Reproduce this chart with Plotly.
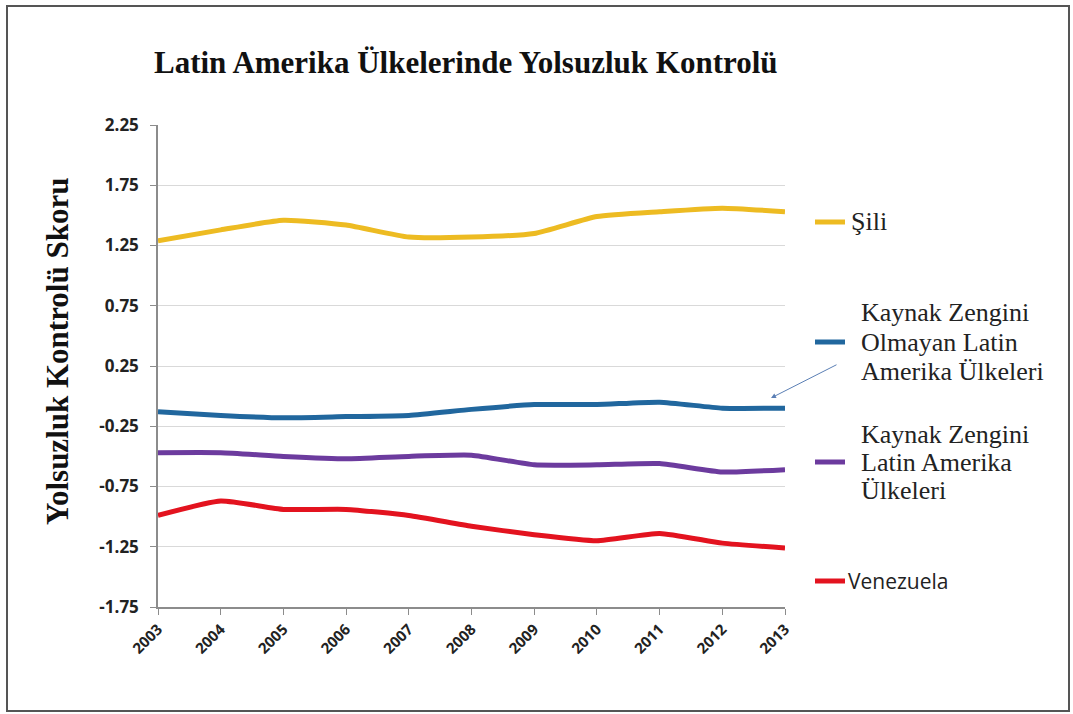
import plotly.graph_objects as go

years = [2003, 2004, 2005, 2006, 2007, 2008, 2009, 2010, 2011, 2012, 2013]
sili = [1.29, 1.38, 1.46, 1.42, 1.32, 1.32, 1.35, 1.49, 1.53, 1.56, 1.53]
olmayan = [-0.13, -0.16, -0.18, -0.17, -0.16, -0.11, -0.07, -0.07, -0.05, -0.10, -0.10]
zengin = [-0.47, -0.47, -0.50, -0.52, -0.50, -0.49, -0.57, -0.57, -0.56, -0.63, -0.61]
venezuela = [-0.99, -0.87, -0.94, -0.94, -0.99, -1.08, -1.15, -1.20, -1.14, -1.22, -1.26]
y_ticks = [2.25, 1.75, 1.25, 0.75, 0.25, -0.25, -0.75, -1.25, -1.75]
y_tick_text = ["2.25", "1.75", "1.25", "0.75", "0.25", "-0.25", "-0.75", "-1.25", "-1.75"]

title_text = "Latin Amerika Ülkelerinde Yolsuzluk Kontrolü"
y_title = "Yolsuzluk Kontrolü Skoru"

colors = {"sili": "#EDBB22", "olmayan": "#21679E", "zengin": "#6C3B9E", "venezuela": "#E3131F"}

fig = go.Figure()
for vals, key in [(sili, "sili"), (olmayan, "olmayan"), (zengin, "zengin"), (venezuela, "venezuela")]:
    fig.add_trace(go.Scatter(x=years, y=vals, mode="lines",
                             line=dict(color=colors[key], width=5, shape="spline", smoothing=0.5),
                             showlegend=False, hoverinfo="skip"))

L, R, T, B = 158, 288, 125, 107
W, H = 1073, 714
pw, ph = W - L - R, H - T - B

def px(x):
    return (x - L) / pw

def py(y):
    return (H - B - y) / ph

tick_font = dict(family="Open Sans", size=15, color="#222", weight="bold")
fig.update_layout(
    width=W, height=H,
    margin=dict(l=L, r=R, t=T, b=B),
    paper_bgcolor="white", plot_bgcolor="white",
    xaxis=dict(range=[2003, 2013], tickvals=years, ticktext=[str(y) for y in years],
               tickangle=-45, showgrid=False, showline=True, linecolor="#8c8c8c", linewidth=1.5,
               ticks="outside", ticklen=6, tickcolor="#8c8c8c",
               tickfont=tick_font, zeroline=False),
    yaxis=dict(range=[-1.75, 2.25], tickvals=y_ticks, ticktext=y_tick_text,
               showgrid=True, gridcolor="#d9d9d9", gridwidth=1,
               showline=True, linecolor="#8c8c8c", linewidth=1.5,
               ticks="outside", ticklen=6, tickcolor="#8c8c8c", ticklabelstandoff=8,
               tickfont=dict(tick_font, size=17), zeroline=False),
)

serif = "Liberation Serif"
ann = []
ann.append(dict(text="<b>" + title_text + "</b>", x=px(466), y=py(62), xref="paper", yref="paper",
                showarrow=False, xanchor="center", yanchor="middle",
                font=dict(family=serif, size=31, color="#111")))
ann.append(dict(text="<b>" + y_title + "</b>", x=px(57), y=py(352), xref="paper", yref="paper",
                showarrow=False, xanchor="center", yanchor="middle", textangle=-90,
                font=dict(family=serif, size=31, color="#111")))

def txt(t, x, y, fam=serif, size=26):
    ann.append(dict(text=t, x=px(x), y=py(y), xref="paper", yref="paper", showarrow=False,
                    xanchor="left", yanchor="middle", font=dict(family=fam, size=size, color="#222")))

txt("Şili", 849, 222)
txt("Kaynak Zengini", 859, 312)
txt("Olmayan Latin", 859, 342)
txt("Amerika Ülkeleri", 859, 371)
txt("Kaynak Zengini", 859, 435)
txt("Latin Amerika", 859, 462)
txt("Ülkeleri", 859, 490)
txt("Venezuela", 846, 581, fam="Open Sans", size=21)

# arrow
ann.append(dict(x=px(771), y=py(398), xref="paper", yref="paper", ax=67, ay=-34,
                showarrow=True, arrowhead=2, arrowsize=1, arrowwidth=1, arrowcolor="#5b7fb5", text=""))
fig.update_layout(annotations=ann)

shapes = []
for y, key in [(222, "sili"), (342, "olmayan"), (462, "zengin"), (581, "venezuela")]:
    shapes.append(dict(type="line", xref="paper", yref="paper", x0=px(815), x1=px(845),
                       y0=py(y), y1=py(y), line=dict(color=colors[key], width=5)))
shapes.append(dict(type="rect", xref="paper", yref="paper", x0=px(7), x1=px(1069),
                   y0=py(6), y1=py(711), line=dict(color="#555", width=2)))
fig.update_layout(shapes=shapes)

fig.write_html("out.html", config={"displayModeBar": False},
               post_script="document.body.style.margin='0';document.body.style.overflow='hidden';")
